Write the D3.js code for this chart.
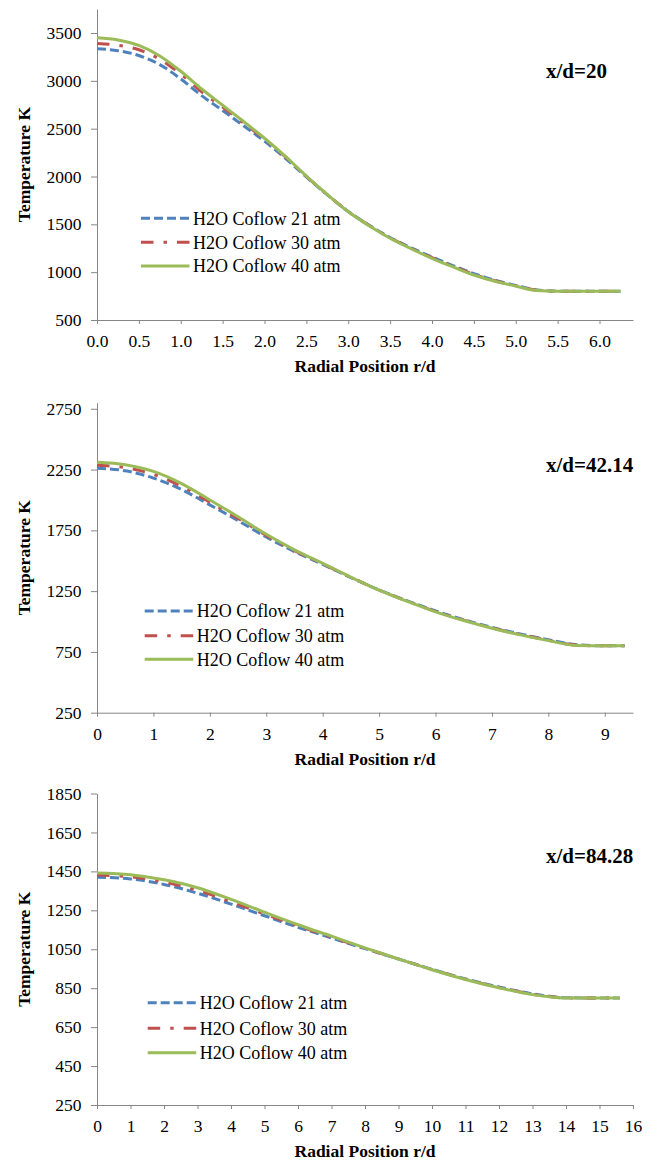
<!DOCTYPE html>
<html>
<head>
<meta charset="utf-8">
<script src="https://cdn.jsdelivr.net/npm/d3@7"></script>
<style>
  body { margin: 0; background: #fff; }
  svg { display: block; background: #fff; }
</style>
</head>
<body>
<svg id="chart" width="658" height="1161"></svg>
<script>
// Series shared by all three panels
const seriesNames = ["H2O Coflow 21 atm", "H2O Coflow 30 atm", "H2O Coflow 40 atm"];

// Panel 1: x/d = 20
const p1Title = "x/d=20";
const p1R   = [0, 0.25, 0.5, 0.75, 1, 1.25, 1.5, 1.75, 2, 2.25, 2.5, 2.75, 3, 3.25, 3.5, 3.75, 4, 4.25, 4.5, 4.75, 5, 5.25, 5.5, 5.75, 6, 6.25];
const p1T21 = [3335, 3315, 3265, 3170, 3020, 2845, 2690, 2530, 2370, 2190, 1995, 1808, 1635, 1490, 1362, 1255, 1158, 1068, 985, 915, 862, 815, 802, 800, 800, 800];
const p1T30 = [3390, 3372, 3325, 3225, 3070, 2885, 2725, 2560, 2390, 2205, 2000, 1810, 1633, 1488, 1358, 1250, 1152, 1062, 978, 910, 858, 812, 801, 800, 800, 800];
const p1T40 = [3450, 3428, 3370, 3260, 3100, 2915, 2745, 2575, 2400, 2210, 2005, 1812, 1632, 1485, 1354, 1245, 1145, 1055, 970, 905, 855, 808, 800, 800, 800, 800];
const p1XTicks = [0, 0.5, 1, 1.5, 2, 2.5, 3, 3.5, 4, 4.5, 5, 5.5, 6];
const p1YTicks = [500, 1000, 1500, 2000, 2500, 3000, 3500];

// Panel 2: x/d = 42.14
const p2Title = "x/d=42.14";
const p2R   = [0, 0.5, 1, 1.5, 2, 2.5, 3, 3.5, 4, 4.5, 5, 5.5, 6, 6.5, 7, 7.5, 8, 8.5, 9, 9.35];
const p2T21 = [2260, 2240, 2180, 2085, 1960, 1830, 1695, 1575, 1470, 1362, 1260, 1170, 1088, 1015, 952, 898, 850, 810, 800, 800];
const p2T30 = [2285, 2266, 2210, 2112, 1982, 1848, 1708, 1583, 1474, 1364, 1259, 1167, 1084, 1012, 948, 894, 846, 806, 800, 800];
const p2T40 = [2310, 2290, 2235, 2135, 2000, 1862, 1718, 1590, 1478, 1365, 1258, 1165, 1080, 1008, 945, 890, 843, 803, 800, 800];
const p2XTicks = [0, 1, 2, 3, 4, 5, 6, 7, 8, 9];
const p2YTicks = [250, 750, 1250, 1750, 2250, 2750];

// Panel 3: x/d = 84.28
const p3Title = "x/d=84.28";
const p3R   = [0, 1, 2, 3, 4, 5, 6, 7, 8, 9, 10, 11, 12, 13, 13.5, 14, 14.5, 15, 15.6];
const p3T21 = [1420, 1411, 1383, 1338, 1282, 1222, 1163, 1108, 1053, 1000, 947, 898, 856, 821, 808, 801, 800, 800, 800];
const p3T30 = [1431, 1422, 1395, 1352, 1294, 1231, 1170, 1112, 1055, 1000, 946, 896, 854, 819, 807, 800, 800, 800, 800];
const p3T40 = [1442, 1433, 1407, 1366, 1306, 1240, 1176, 1117, 1057, 1000, 945, 895, 852, 817, 806, 800, 800, 800, 800];
const p3XTicks = [0, 1, 2, 3, 4, 5, 6, 7, 8, 9, 10, 11, 12, 13, 14, 15, 16];
const p3YTicks = [250, 450, 650, 850, 1050, 1250, 1450, 1650, 1850];

// Line styles for the three series
const seriesColors = ["#4F81BD", "#C0504D", "#9BBB59"];
const seriesDash   = ["9,4", "12.5,10,3.5,10", null];

const serif = "'Liberation Serif', 'Times New Roman', Times, serif";

const panels = [
  { title: p1Title, r: p1R, temps: [p1T21, p1T30, p1T40], xTicks: p1XTicks, yTicks: p1YTicks,
    xMax: 6.4, yMin: 500, yMax: 3750, top: 9.1, bottom: 320, xFmt: d3.format(".1f"),
    titleY: 77.7, legX: 141, legRows: [218.3, 242.3, 266] },
  { title: p2Title, r: p2R, temps: [p2T21, p2T30, p2T40], xTicks: p2XTicks, yTicks: p2YTicks,
    xMax: 9.5, yMin: 250, yMax: 2800, top: 402.7, bottom: 712.7, xFmt: d3.format("d"),
    titleY: 471.7, legX: 144.7, legRows: [611, 635.7, 659.3] },
  { title: p3Title, r: p3R, temps: [p3T21, p3T30, p3T40], xTicks: p3XTicks, yTicks: p3YTicks,
    xMax: 16, yMin: 250, yMax: 1850, top: 793.5, bottom: 1105, xFmt: d3.format("d"),
    titleY: 863.3, legX: 147.7, legRows: [1002.7, 1028.3, 1052.7] }
];

const svg = d3.select("#chart");
const left = 97, right = 633;
const axisColor = "#868686";

panels.forEach(p => {
  const x = d3.scaleLinear().domain([0, p.xMax]).range([left, right]);
  const y = d3.scaleLinear().domain([p.yMin, p.yMax]).range([p.bottom, p.top]);
  const g = svg.append("g");

  // Y axis
  const ya = g.append("g")
    .attr("transform", `translate(${left},0)`)
    .call(d3.axisLeft(y).tickValues(p.yTicks).tickFormat(d3.format("d"))
      .tickSize(6).tickSizeOuter(0).tickPadding(9.5));
  // X axis
  const xa = g.append("g")
    .attr("transform", `translate(0,${p.bottom})`)
    .call(d3.axisBottom(x).tickValues(p.xTicks).tickFormat(p.xFmt)
      .tickSize(4).tickSizeOuter(0).tickPadding(10.9));

  [ya, xa].forEach(a => {
    a.attr("font-family", serif).attr("font-size", 17.5);
    a.selectAll("path, line").attr("stroke", axisColor).attr("stroke-width", 1);
    a.selectAll("text").attr("fill", "#000")
      .style("font-family", serif).style("font-size", "17.5px");
  });

  // Axis titles
  g.append("text")
    .attr("x", (left + right) / 2).attr("y", p.bottom + 52)
    .attr("text-anchor", "middle")
    .style("font-family", serif)
    .style("font-size", "17.5px").style("font-weight", "bold")
    .text("Radial Position r/d");
  g.append("text")
    .attr("transform", `translate(30,${(p.top + p.bottom) / 2}) rotate(-90)`)
    .attr("text-anchor", "middle")
    .style("font-family", serif)
    .style("font-size", "17.5px").style("font-weight", "bold")
    .text("Temperature K");

  // Panel label
  g.append("text")
    .attr("x", 546).attr("y", p.titleY)
    .style("font-family", serif)
    .style("font-size", "21px").style("font-weight", "bold")
    .text(p.title);

  // Profiles
  const line = d3.line()
    .x(d => x(d[0]))
    .y(d => y(d[1]))
    .curve(d3.curveMonotoneX);

  p.temps.forEach((t, i) => {
    const pts = p.r.map((rv, k) => [rv, t[k]]);
    g.append("path")
      .datum(pts)
      .attr("d", line)
      .attr("fill", "none")
      .attr("stroke", seriesColors[i])
      .attr("stroke-width", 3)
      .attr("stroke-dasharray", seriesDash[i]);
  });

  // Legend
  seriesNames.forEach((name, i) => {
    const ly = p.legRows[i];
    g.append("line")
      .attr("x1", p.legX).attr("x2", p.legX + 48.5)
      .attr("y1", ly).attr("y2", ly)
      .attr("stroke", seriesColors[i])
      .attr("stroke-width", 3)
      .attr("stroke-dasharray", seriesDash[i]);
    g.append("text")
      .attr("x", p.legX + 52).attr("y", ly + 6.2)
      .style("font-family", serif)
      .style("font-size", "18px")
      .text(name);
  });
});
</script>
</body>
</html>
